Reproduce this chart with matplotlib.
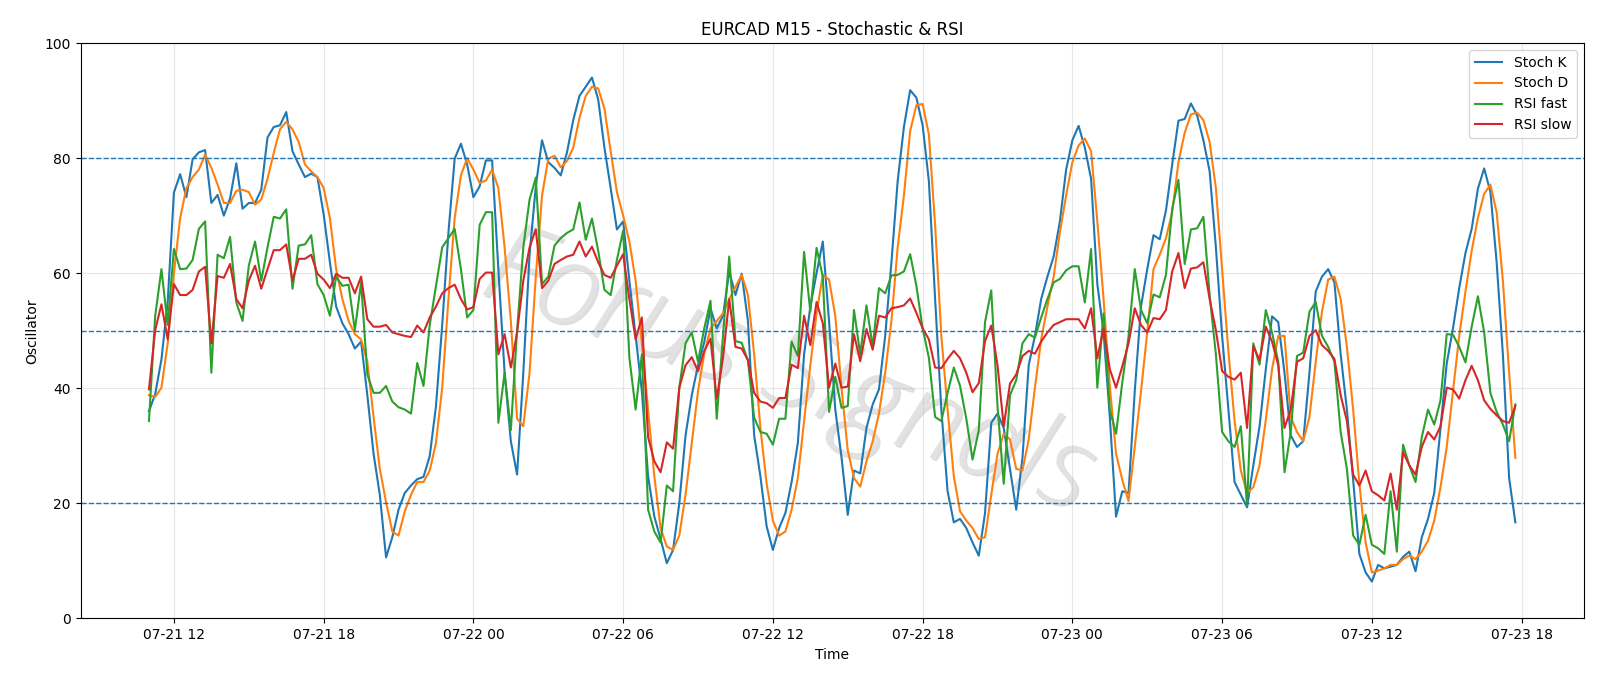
import numpy as np
import pandas as pd
import matplotlib
matplotlib.use("Agg")
import matplotlib.pyplot as plt
import matplotlib.dates as mdates
import matplotlib.patheffects as pe

# EURCAD M15 bars, 07-21 11:00 -> 07-23 17:45
times = pd.date_range("2025-07-21 11:00", periods=220, freq="15min")

stoch_k = [
    36, 39, 45, 55, 74, 77.2, 73.2, 79.8, 81, 81.4,
    72.2, 73.6, 70, 73, 79.1, 71.2, 72.2, 72.2, 74.5, 83.6,
    85.4, 85.7, 88, 81.2, 78.9, 76.7, 77.3, 76.7, 70.2, 61.9,
    54.2, 51.3, 49.4, 46.9, 48.1, 38.8, 28.6, 21.5, 10.6, 14.1,
    18.9, 21.8, 23.1, 24.2, 24.6, 28.2, 36.9, 51, 67.1, 79.9,
    82.5, 78.9, 73.2, 75.1, 79.6, 79.6, 60.7, 42.7, 30.8, 25,
    42.7, 63.2, 75.1, 83.1, 79.3, 78.3, 77, 81, 86.6, 90.8,
    92.4, 94, 90.2, 81.8, 74.8, 67.6, 69, 58.7, 49.1, 39.5,
    24.7, 17.7, 13.8, 9.6, 11.9, 20, 31.8, 38.8, 44, 48,
    53.9, 50.4, 52.6, 60.3, 56.2, 59.9, 51.7, 31.8, 24.7, 16,
    11.9, 15.7, 18.3, 23.7, 30.5, 45.9, 54.2, 60, 65.5, 51.7,
    36.3, 28, 18, 25.7, 25.2, 33.1, 37.2, 39.8, 49.1, 61.9,
    76, 85.4, 91.8, 90.5, 85.7, 76, 55.5, 36.3, 22.1, 16.7,
    17.3, 15.7, 13.2, 10.9, 18.3, 34, 35.6, 33.1, 26, 18.9,
    27.9, 44, 49.1, 55.5, 59.4, 62.9, 69, 78, 83.1, 85.6,
    81.8, 76.4, 58.1, 49.7, 35, 17.7, 22.1, 21.8, 39.5, 54.2,
    60.7, 66.6, 65.9, 70.9, 78.9, 86.5, 86.8, 89.5, 87.4, 83.1,
    77.7, 64.5, 49.1, 36.3, 23.7, 21.5, 19.3, 26.6, 33.4, 43.3,
    52.5, 51.5, 42.7, 31.8, 29.8, 30.8, 42.7, 56.8, 59.4, 60.7,
    58.4, 45.9, 36.3, 24.1, 11.2, 8, 6.4, 9.3, 8.7, 9,
    9.3, 10.7, 11.6, 8.2, 14.1, 17.3, 21.8, 33.1, 44.3, 50.4,
    57.4, 63.5, 67.7, 74.7, 78.2, 74.1, 61.9, 45.9, 24.4, 16.7,
]

stoch_d = [
    38.8, 38.5, 40.1, 47.8, 60, 69.6, 74.8, 76.7, 78, 80.6,
    78.3, 75.4, 72.2, 72.2, 74.3, 74.5, 74.1, 71.9, 72.8, 76.4,
    80.9, 85, 86.3, 85, 82.8, 78.9, 77.7, 76.7, 74.8, 69.6,
    60.7, 55.5, 51.7, 49.4, 48.5, 44.6, 35, 26, 20.2, 15.1,
    14.4, 18.6, 21.5, 23.7, 23.7, 25.7, 30.5, 40.1, 55.5, 69.6,
    77, 80, 78, 75.7, 76.1, 78, 74.8, 64.5, 51.7, 34.7,
    33.4, 42.7, 59.4, 73.5, 79.9, 80.4, 78.4, 79.5, 81.8, 87,
    90.8, 92.4, 92.1, 88.6, 81.2, 74.1, 70, 65.5, 58.7, 47.8,
    36.3, 24.7, 15.7, 12.5, 11.9, 14.4, 21.5, 30.5, 39.5, 46,
    50.4, 51.7, 53, 55.5, 57.6, 59.7, 56.2, 45.9, 33.1, 23.4,
    17, 14.4, 15.1, 18.9, 24.4, 34.3, 44, 53, 59.7, 58.9,
    52.6, 40.1, 29.2, 24.4, 22.9, 27.3, 30.8, 35.6, 42.7, 51.7,
    64.5, 73.5, 84.7, 89.2, 89.4, 84.1, 68.4, 49.1, 36.3, 24.7,
    18.6, 17, 15.7, 13.8, 14.1, 21.5, 28.6, 32.1, 31.1, 26,
    25.7, 31.1, 40.1, 48.5, 54.2, 59.4, 67.1, 73.5, 79.3, 82.2,
    83.4, 81.2, 69, 55.5, 40.4, 28.6, 24.1, 20.4, 29.8, 39.5,
    49.7, 60.7, 63.2, 66.1, 70.6, 79.3, 84.4, 87.6, 87.9, 86.6,
    82.8, 74.8, 60.7, 46.5, 34.3, 25.7, 21.8, 22.8, 26.6, 34.5,
    43.3, 49.1, 49.1, 35, 32.4, 30.8, 35, 44.6, 53.3, 58.9,
    59.4, 55.5, 47.2, 36.3, 23.4, 13.2, 8, 8.3, 8.7, 9.3,
    9.3, 10.3, 10.9, 10.3, 11.6, 13.5, 17, 22.8, 29.8, 39.5,
    49.1, 56.8, 63.9, 69.6, 73.8, 75.4, 70.6, 58.7, 42.7, 27.9,
]

rsi_fast = [
    34.3, 52.6, 60.7, 51, 64.2, 60.7, 60.8, 62.3, 67.7, 69,
    42.7, 63.2, 62.6, 66.3, 54.9, 51.7, 61.3, 65.5, 58.7, 64.5,
    69.8, 69.5, 71.1, 57.3, 64.8, 65, 66.6, 58.1, 56.2, 52.6,
    59.4, 57.8, 58, 50.1, 58.4, 42.4, 39.2, 39.2, 40.4, 37.7,
    36.7, 36.3, 35.6, 44.4, 40.4, 51, 57.8, 64.5, 66.1, 67.7,
    60.7, 52.3, 53.6, 68.4, 70.6, 70.6, 34, 42.7, 32.7, 50,
    64.5, 72.8, 76.6, 58.1, 59.4, 64.8, 66.1, 67, 67.6, 72.3,
    65.8, 69.5, 63.9, 57.1, 56.2, 62.3, 67.4, 45.3, 36.3, 45.9,
    18.9, 15.1, 13.2, 23.1, 22.1, 40.1, 47.8, 49.7, 44.6, 50.4,
    55.2, 34.7, 49.1, 62.9, 48.2, 47.9, 44.8, 34.9, 32.4, 32.1,
    30.2, 34.7, 34.7, 48.1, 45.6, 63.7, 53.3, 64.4, 59.4, 35.9,
    42, 36.6, 36.9, 53.6, 45.9, 54.4, 47.2, 57.4, 56.5, 59.6,
    59.7, 60.3, 63.3, 57.8, 50.4, 45.3, 35, 34.3, 39.2, 43.6,
    40.4, 34.7, 27.6, 32.7, 51.5, 57, 36.9, 23.4, 38.8, 41.4,
    47.8, 49.4, 48.8, 52.3, 55.5, 58.4, 59, 60.5, 61.2, 61.2,
    54.9, 64.2, 40.1, 53, 36.3, 32.1, 41, 49, 60.7, 53.6,
    51.3, 56.3, 55.8, 59.7, 71.2, 76.2, 61.6, 67.6, 67.8, 69.8,
    56.2, 45.9, 32.4, 30.8, 29.8, 33.4, 19.6, 47.8, 44.1, 53.6,
    49.7, 44.6, 25.4, 32.4, 45.6, 46.2, 53.3, 55, 49.1, 47.2,
    44.6, 32.4, 26, 14.4, 12.8, 18, 12.8, 12.2, 11.2, 22.1,
    11.6, 30.2, 26.6, 23.7, 31.5, 36.3, 33.7, 37.9, 49.4, 49.3,
    47.2, 44.5, 50.7, 56, 49.7, 39.2, 35.9, 33.7, 30.8, 37.2,
]

rsi_slow = [
    39.8, 50.1, 54.6, 48.5, 58.1, 56.2, 56.2, 57.1, 60.3, 61.1,
    47.8, 59.5, 59.2, 61.6, 55.5, 53.9, 58.7, 61.3, 57.3, 60.7,
    64, 64, 65, 58.7, 62.5, 62.5, 63.2, 59.9, 58.9, 57.4,
    59.9, 59.2, 59.2, 56.5, 59.4, 52, 50.7, 50.7, 51, 49.7,
    49.4, 49.1, 48.9, 50.9, 49.7, 52.3, 54.2, 56.5, 57.4, 58,
    55.5, 53.7, 54.1, 59, 60.1, 60.1, 45.9, 49.4, 43.6, 49.7,
    58.7, 64.5, 67.6, 57.4, 58.7, 61.6, 62.3, 62.9, 63.2, 65.5,
    62.9, 64.6, 61.9, 59.7, 59.2, 61.3, 63.3, 55.5, 48.5, 52.3,
    31.5, 27.3, 25.4, 30.6, 29.5, 40.1, 44, 45.4, 43, 46.5,
    48.6, 38.2, 45.2, 55.5, 47.2, 46.9, 44.9, 39.2, 37.7, 37.4,
    36.6, 38.3, 38.3, 44.1, 43.5, 52.6, 47.5, 55, 51.3, 40.1,
    44.3, 40.1, 40.3, 49.4, 44.7, 50.3, 46.7, 52.6, 52.3, 53.9,
    54.1, 54.4, 55.6, 53.1, 50.4, 48.5, 43.6, 43.5, 45.1, 46.5,
    45.2, 42.7, 39.3, 40.9, 48.2, 50.9, 44, 33.4, 40.8, 42.4,
    45.6, 46.5, 46, 48.1, 49.7, 51, 51.5, 52, 52, 52,
    50.4, 53.9, 45.2, 50.4, 43.3, 40.1, 43.8, 47.8, 53.9, 51,
    49.7, 52.2, 52, 53.6, 60.3, 63.5, 57.4, 60.8, 61, 61.9,
    55.5, 50.1, 43, 42, 41.5, 42.7, 33.1, 47.3, 44.9, 50.7,
    48.1, 44, 33.1, 36.3, 44.6, 45.2, 49.1, 50.1, 47.5, 46.5,
    45.1, 38.8, 34.3, 25, 23.1, 25.7, 22.1, 21.4, 20.5, 25.2,
    18.9, 28.9, 26.6, 25, 29.8, 32.4, 31.1, 33.4, 40.1, 39.8,
    38.2, 41.4, 43.9, 41.4, 37.9, 36.4, 35.3, 34.3, 34, 36.9,
]

levels = [20, 50, 80]

fig, ax = plt.subplots(figsize=(16, 6.86), dpi=100)
fig.subplots_adjust(left=0.0504, right=0.9898, top=0.9373, bottom=0.0985)

ax.plot(times, stoch_k, color="#1f77b4", lw=1.5, label="Stoch K")
ax.plot(times, stoch_d, color="#ff7f0e", lw=1.5, label="Stoch D")
ax.plot(times, rsi_fast, color="#2ca02c", lw=1.5, label="RSI fast")
ax.plot(times, rsi_slow, color="#d62728", lw=1.5, label="RSI slow")

for lv in levels:
    ax.axhline(lv, color="#1f77b4", ls="--", lw=1)

ax.set_ylim(0, 100)
ax.grid(True, alpha=0.3)
ax.xaxis.set_major_locator(mdates.HourLocator(byhour=[0, 6, 12, 18]))
ax.xaxis.set_major_formatter(mdates.DateFormatter("%m-%d %H"))

ax.set_title("EURCAD M15 - Stochastic & RSI")
ax.set_xlabel("Time")
ax.set_ylabel("Oscillator")
ax.legend(loc="upper right")

# watermark: thin light-grey lettering with a soft shadow
ax.text(0.47, 0.425, "Forus Signals", transform=ax.transAxes, fontsize=82,
        family=["Open Sans", "DejaVu Sans"], fontweight=300, style="italic",
        color="#e2e2e2", rotation=-20, ha="center", va="center", zorder=0,
        path_effects=[pe.withSimplePatchShadow(offset=(1.5, -1.5),
                                               shadow_rgbFace="#a0a0a0",
                                               alpha=0.35)])

plt.savefig("out.png", dpi=100)
